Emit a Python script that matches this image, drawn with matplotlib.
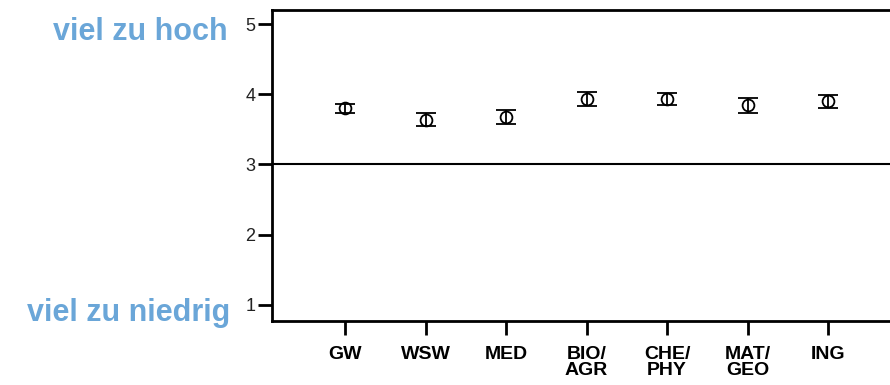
import matplotlib
matplotlib.use('Agg')
import matplotlib.pyplot as plt
import numpy as np

# faculties and mean rating with 95% CI half width
faculties = ['GW', 'WSW', 'MED', 'BIO/\nAGR', 'CHE/\nPHY', 'MAT/\nGEO', 'ING']
means = [3.80, 3.64, 3.67, 3.93, 3.93, 3.84, 3.90]
ci = [0.065, 0.095, 0.10, 0.10, 0.09, 0.105, 0.095]
yticks = [1, 2, 3, 4, 5]
label_high = 'viel zu hoch'
label_low = 'viel zu niedrig'

plt.rcParams['font.family'] = ['Liberation Sans', 'DejaVu Sans']

fig = plt.figure(figsize=(8.9, 3.85), dpi=100)
ax = fig.add_axes([272/890, 1-321/385, 1-272/890, (321-10)/385])

x = np.arange(1, len(faculties)+1)
ax.errorbar(x, means, yerr=ci, fmt='o', mfc='none', mec='k', mew=1.3,
			markersize=8.5, ecolor='k', elinewidth=1.3, capsize=7, capthick=2)

ax.axhline(3, color='k', lw=1.5)

ax.set_xlim(0.093, 7.77)
ax.set_ylim(0.77, 5.2)
ax.set_xticks(x)
ax.set_xticklabels(faculties, fontsize=14, fontweight='bold', linespacing=0.95)
ax.set_yticks(yticks)
ax.set_yticklabels([str(v) for v in yticks], fontsize=13, color='#222222')
ax.tick_params(axis='both', direction='out', length=10, width=2, color='k')
ax.tick_params(axis='x', pad=8)
ax.tick_params(axis='y', pad=2)

ax.spines['right'].set_visible(False)
for s in ['left', 'top', 'bottom']:
	ax.spines[s].set_linewidth(2)

blue = '#6aa6d8'
fig.text(228/890, 1-32/385, label_high, color=blue, fontsize=22, fontweight='bold',
		 ha='right', va='center')
fig.text(230/890, 1-313/385, label_low, color=blue, fontsize=22, fontweight='bold',
		 ha='right', va='center')

fig.savefig('out.png', dpi=100)
